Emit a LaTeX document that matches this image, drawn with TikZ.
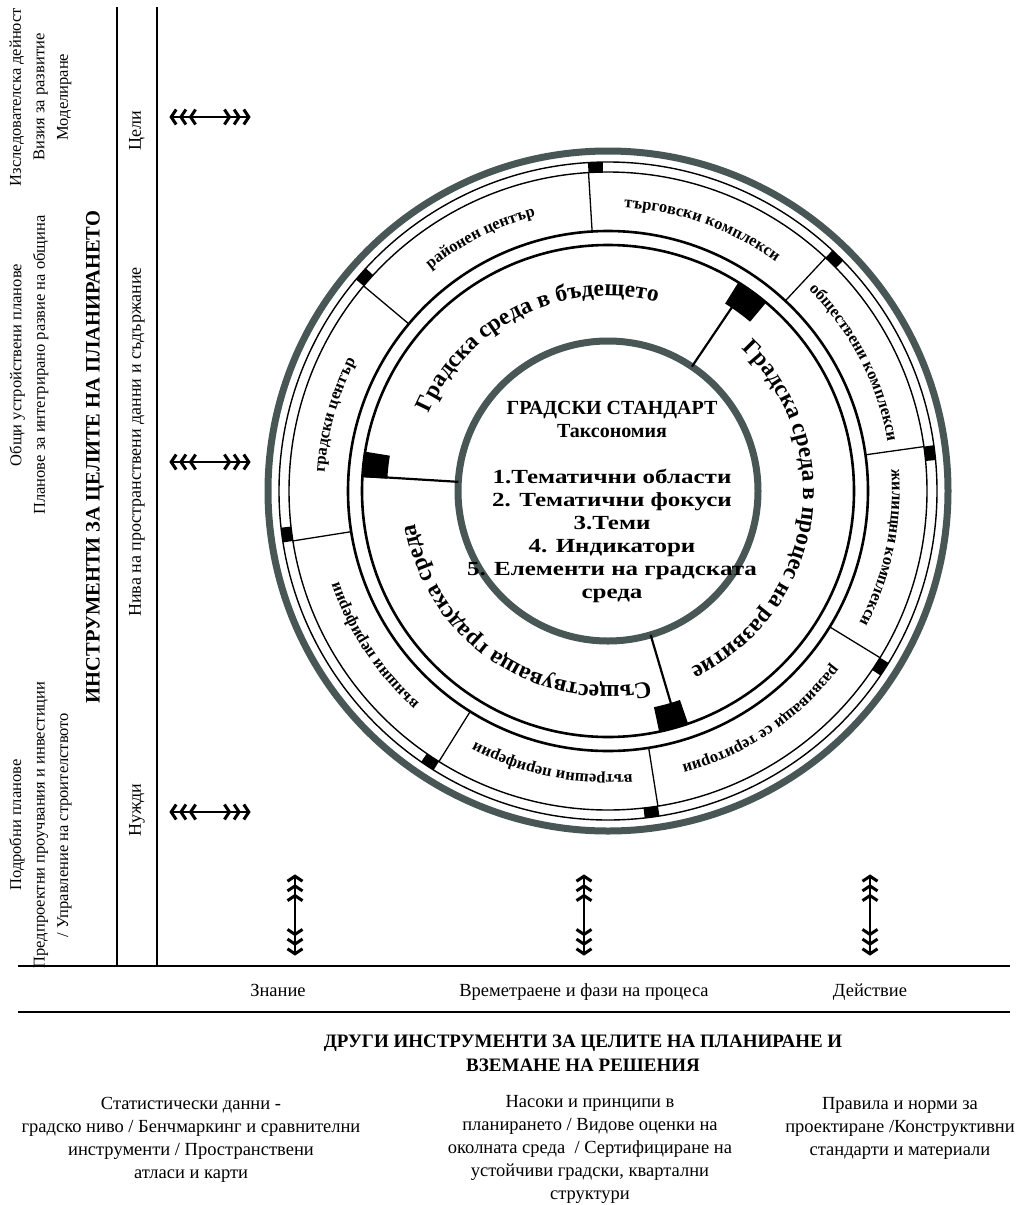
\documentclass[tikz,border=0pt]{standalone}
\usepackage{fontspec}
\setmainfont{Liberation Serif}
\newfontfamily\wideserif[FakeStretch=1.25]{Liberation Serif}
\usetikzlibrary{arrows.meta,decorations.text}
\definecolor{ringgray}{RGB}{72,86,86}
\newcommand\sidefont{\fontsize{16.5}{23.5}\selectfont}
\newcommand\colfont{\fontsize{18}{22}\selectfont}
\newcommand\headfont{\fontsize{20.5}{24}\selectfont\bfseries}
\newcommand\sectorfont{\fontsize{16.5}{18}\selectfont\bfseries}
\newcommand\zonefont{\fontsize{23.5}{26}\selectfont\bfseries}
\newcommand\corefont{\fontsize{20}{23}\selectfont\bfseries}
\newcommand\wl{\wideserif\bfseries}
\newcommand\notefont{\fontsize{18.5}{23}\selectfont}
\newcommand\titlefont{\fontsize{19}{24}\selectfont\bfseries}

\begin{document}
\begin{tikzpicture}[x=1pt,y=1pt,
    chev/.tip={Straight Barb[length=5pt,width=15pt,line width=3pt,sep=1.4pt]},
    biarrow/.style={line width=1.1pt,{chev[] chev[] chev[]}-{chev[] chev[] chev[]}},
    frame/.style={line width=2.8pt},
    grayring/.style={draw=ringgray,line width=7pt},
    thinring/.style={line width=1.4pt},
    boldring/.style={line width=2.6pt},
    sector/.style={decorate,decoration={text along path,text align=center,text={|\sectorfont|#1}}},
    zone/.style={decorate,decoration={text along path,text align=center,text={|\zonefont|#1}}},
    side/.style={rotate=90,align=center,inner sep=0pt,font=\sidefont},
    note/.style={align=center,inner sep=0pt,font=\notefont}]
  \useasboundingbox (0,0) rectangle (1015,-1205);

  % frame of the planning columns
  \draw[frame] (117,-7) -- (117,-966);
  \draw[frame] (157,-7) -- (157,-966);
  \draw[frame] (18,-966) -- (1010,-966);
  \draw[frame] (18,-1012) -- (1010,-1012);

  \node[side] (research) at (40.5,-97) {Изследователска дейност\\Визия за развитие\\Моделиране};
  \node[side] (general) at (29,-365) {Общи устройствени планове\\Планове за интегрирано развие на община};
  \node[side] (detailed) at (40.5,-825) {Подробни планове\\Предпроектни проучвания и инвестиции\\/ Управление на строителството};
  \node[side,font=\headfont] (instr) at (95,-457) {ИНСТРУМЕНТИ ЗА ЦЕЛИТЕ НА ПЛАНИРАНЕТО};
  \node[side,font=\colfont] (goals) at (137,-131) {Цели};
  \node[side,font=\colfont] (levels) at (137,-442) {Нива на пространствени данни и съдържание};
  \node[side,font=\colfont] (needs) at (137,-810) {Нужди};

  \foreach \n/\y in {goals/117,levels/462,needs/812}{
    \coordinate (\n-w) at (168,-\y);
    \coordinate (\n-e) at (252,-\y);
    \draw[biarrow] (\n-w) -- (\n-e);
  }
  \foreach \n/\x in {know/295,time/584,act/870}{
    \coordinate (\n-s) at (\x,-957);
    \coordinate (\n-n) at (\x,-873);
    \draw[biarrow] (\n-s) -- (\n-n);
  }

  % the rings
  \begin{scope}[shift={(608,-491)}]
    \draw[grayring] (0,0) circle (340);
    \draw[thinring] (0,0) circle (329);
    \draw[thinring] (0,0) circle (319);
    \draw[boldring] (0,0) circle (260);
    \draw[boldring] (0,0) circle (246);
    \draw[grayring] (0,0) circle (150);
    \foreach \a in {8,47,93.5,140,189,238,279,328.5}{
      \draw[line width=1.3pt] (\a:260) -- (\a:319);
      \fill (\a:319) arc[start angle=\a,end angle=\a-2.6,radius=319]
        -- ({\a-2.6}:329) arc[start angle=\a-2.6,end angle=\a,radius=329] -- cycle;
    }
    \foreach \a/\b in {176.8/170.8,58/50,289/282}{
      \fill (\a:221) -- (\a:246) arc[start angle=\a,end angle=\b,radius=246]
        -- (\b:221) arc[start angle=\b,end angle=\a,radius=221] -- cycle;
    }
    \foreach \a in {176.5,56,286.5}
      \draw[line width=2.2pt] (\a:150) -- (\a:246);

    \path[sector={районен център}] (140:284) arc[start angle=140,end angle=93.5,radius=284];
    \path[sector={търговски комплекси}] (93.5:284) arc[start angle=93.5,end angle=47,radius=284];
    \path[sector={обществени комплекси}] (47:284) arc[start angle=47,end angle=8,radius=284];
    \path[sector={жилищни комплекси}] (8:284) arc[start angle=8,end angle=-31.5,radius=284];
    \path[sector={развиващи се територии}] (-31.5:284) arc[start angle=-31.5,end angle=-81,radius=284];
    \path[sector={вътрешни периферии}] (-81:284) arc[start angle=-81,end angle=-122,radius=284];
    \path[sector={външни периферии}] (-122:284) arc[start angle=-122,end angle=-171,radius=284];
    \path[sector={градски център}] (189:284) arc[start angle=189,end angle=140,radius=284];

    \path[zone={Градска среда в бъдещето}] (176:195) arc[start angle=176,end angle=56,radius=195];
    \path[zone={Градска среда в процес на развитие}] (56:195) arc[start angle=56,end angle=-74,radius=195];
    \path[zone={Съществуваща градска среда}] (290:195) arc[start angle=290,end angle=182,radius=195];
  \end{scope}

  \node[align=center,inner sep=0pt,font=\corefont] (core) at (612,-502)
    {ГРАДСКИ СТАНДАРТ\\Таксономия\\[23pt]\wl 1.Тематични области\\\wl 2. Тематични фокуси\\\wl 3.Теми\\\wl 4. Индикатори\\\wl 5. Елементи на градската\\\wl среда};

  \node[note,anchor=base] (know) at (278,-996) {Знание};
  \node[note,anchor=base] (time) at (584,-996) {Времетраене и фази на процеса};
  \node[note,anchor=base] (act) at (870,-996) {Действие};

  \node[align=center,inner sep=0pt,font=\titlefont] (others) at (583,-1053)
    {ДРУГИ ИНСТРУМЕНТИ ЗА ЦЕЛИТЕ НА ПЛАНИРАНЕ И\\ВЗЕМАНЕ НА РЕШЕНИЯ};
  \node[note,anchor=north] (stats) at (191,-1097)
    {Статистически данни -\\градско ниво / Бенчмаркинг и сравнителни\\инструменти / Пространствени\\атласи и карти};
  \node[note,anchor=north] (guides) at (590,-1095)
    {Насоки и принципи в\\планирането / Видове оценки на\\околната среда~~/ Сертифициране на\\устойчиви градски, квартални\\структури};
  \node[note,anchor=north] (rules) at (900,-1097)
    {Правила и норми за\\проектиране /Конструктивни\\стандарти и материали};
\end{tikzpicture}
\end{document}
